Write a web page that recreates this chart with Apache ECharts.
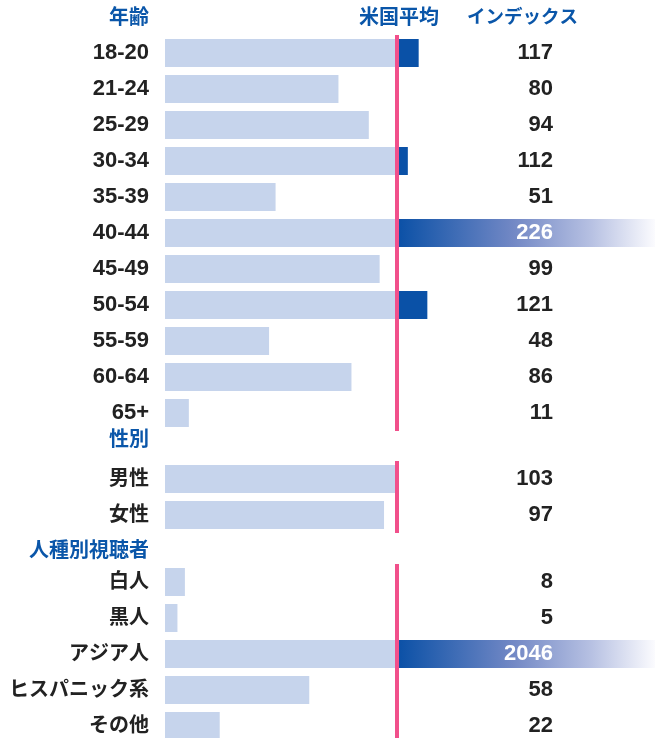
<!DOCTYPE html>
<html>
<head>
<meta charset="utf-8">
<script src="https://cdn.jsdelivr.net/npm/echarts@6/dist/echarts.min.js"></script>
<style>
html,body{margin:0;padding:0;background:#fff;}
#chart{width:655px;height:738px;}
</style>
</head>
<body>
<div id="chart"></div>
<script>
// ---- data ----
const sectionTitles = ['年齢', '性別', '人種別視聴者'];
const columnHeaders = ['米国平均', 'インデックス'];

const ageCategories = ['18-20', '21-24', '25-29', '30-34', '35-39', '40-44', '45-49', '50-54', '55-59', '60-64', '65+'];
const ageValues = [117, 80, 94, 112, 51, 226, 99, 121, 48, 86, 11];

const genderCategories = ['男性', '女性'];
const genderValues = [103, 97];

const raceCategories = ['白人', '黒人', 'アジア人', 'ヒスパニック系', 'その他'];
const raceValues = [8, 5, 2046, 58, 22];

const US_AVERAGE = 100;

// ---- layout / style ----
const GRID_LEFT = 165, GRID_WIDTH = 490;
const LINE_PX = 232;     // average line, pixels from bar start
const FONT = '"Liberation Sans", Arial, "Noto Sans CJK JP", sans-serif';
const LIGHT = '#c6d4ec';
const DARK = '#0a51a7';
const PINK = '#f1508b';
const BLUE_TEXT = '#0a56a9';
const TEXT = '#222222';

const sections = [
  { cats: ageCategories, vals: ageValues, top: 35, axisMax: 226 },
  { cats: genderCategories, vals: genderValues, top: 461, axisMax: 217 },
  { cats: raceCategories, vals: raceValues, top: 564, axisMax: 197 }
];

const grids = [], xAxes = [], yAxes = [], series = [];
const gradient = new echarts.graphic.LinearGradient(0, 0, 1, 0, [
  { offset: 0, color: '#0a50a6' },
  { offset: 0.45, color: '#7288c5' },
  { offset: 0.75, color: '#b6c0e2' },
  { offset: 1, color: '#fbfbfe' }
]);

const isAscii = s => /^[\x00-\x7f]*$/.test(s);

sections.forEach((s, i) => {
  const linePos = s.axisMax * LINE_PX / GRID_WIDTH;
  grids.push({ left: GRID_LEFT, width: GRID_WIDTH, top: s.top, height: s.cats.length * 36,
               containLabel: false, outerBoundsMode: 'none' });
  xAxes.push({ type: 'value', gridIndex: i, min: 0, max: s.axisMax, show: false });
  // category names
  yAxes.push({
    type: 'category', gridIndex: i, data: s.cats, inverse: true,
    axisLine: { show: false }, axisTick: { show: false }, splitLine: { show: false },
    axisLabel: {
      margin: 16,
      formatter: v => (isAscii(v) ? '{a|' + v + '}' : '{c|' + v + '}'),
      rich: {
        a: { fontFamily: FONT, fontSize: 22, fontWeight: 'bold', color: TEXT },
        c: { fontFamily: FONT, fontSize: 20, fontWeight: 'bold', color: TEXT }
      }
    }
  });
  // value column
  yAxes.push({
    type: 'category', gridIndex: i, data: s.vals.map(String), inverse: true,
    position: 'left', offset: -388, z: 10,
    axisLine: { show: false }, axisTick: { show: false }, splitLine: { show: false },
    axisLabel: {
      margin: 0, fontFamily: FONT, fontSize: 22, fontWeight: 'bold',
      color: (val, idx) => (s.vals[idx] >= s.axisMax ? '#ffffff' : TEXT)
    }
  });
  const light = s.vals.map(v => (v >= US_AVERAGE ? linePos : Math.min(v, linePos)));
  const dark = s.vals.map(v => {
    const d = v > linePos ? Math.min(v, s.axisMax) - linePos : 0;
    return { value: d, itemStyle: { color: v >= s.axisMax ? gradient : DARK } };
  });
  series.push({
    type: 'bar', xAxisIndex: i, yAxisIndex: i * 2, stack: 's' + i, data: light,
    barWidth: 28, itemStyle: { color: LIGHT }, silent: true, animation: false
  });
  series.push({
    type: 'bar', xAxisIndex: i, yAxisIndex: i * 2, stack: 's' + i, data: dark,
    barWidth: 28, silent: true, animation: false,
    markLine: {
      silent: true, symbol: 'none', animation: false,
      label: { show: false },
      lineStyle: { color: PINK, width: 4, type: 'solid' },
      data: [{ xAxis: linePos }]
    }
  });
});

const titleStyle = { fontFamily: FONT, fontSize: 20, fontWeight: 'bold', fill: BLUE_TEXT };
const graphic = [
  { type: 'text', right: 655 - 149, top: 8, style: Object.assign({ text: sectionTitles[0], textAlign: 'right' }, titleStyle) },
  { type: 'text', right: 655 - 149, top: 430, style: Object.assign({ text: sectionTitles[1], textAlign: 'right' }, titleStyle) },
  { type: 'text', right: 655 - 149, top: 541, style: Object.assign({ text: sectionTitles[2], textAlign: 'right' }, titleStyle) },
  { type: 'text', left: 359, top: 8, style: Object.assign({}, titleStyle, { text: columnHeaders[0] }) },
  { type: 'text', left: 467, top: 9, style: Object.assign({}, titleStyle, { text: columnHeaders[1], fontSize: 18.5 }) }
];

const chart = echarts.init(document.getElementById('chart'), null, { renderer: 'canvas' });
chart.setOption({
  backgroundColor: '#ffffff',
  animation: false,
  grid: grids,
  xAxis: xAxes,
  yAxis: yAxes,
  series: series,
  graphic: graphic
});
</script>
</body>
</html>
